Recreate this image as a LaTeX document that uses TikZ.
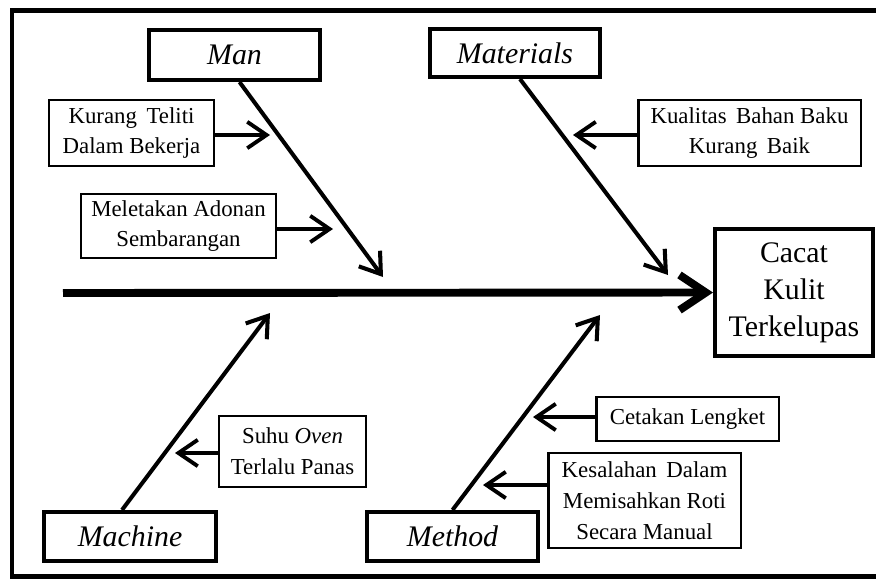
\documentclass[tikz,border=0pt]{standalone}
\usepackage{fontspec}
\setmainfont{Liberation Serif}
\usetikzlibrary{arrows.meta}

\tikzset{
  cause/.style={draw, line width=2.3pt, inner sep=0pt, align=center,
    font=\fontsize{17}{21}\selectfont\itshape},
  effect/.style={draw, line width=2.3pt, inner sep=0pt, align=center,
    font=\fontsize{17}{21}\selectfont},
  subcause/.style={draw, line width=1.4pt, inner sep=0pt, align=center,
    font=\fontsize{13}{17.5}\selectfont},
  bone/.style={line width=2.3pt, -{Straight Barb[length=11pt,width=15pt]}},
  twig/.style={line width=2.2pt, -{Straight Barb[length=11pt,width=15pt]}},
  spine/.style={line width=4.5pt, -{Straight Barb[length=15pt,width=20pt]}}
}

\begin{document}
\begin{tikzpicture}[x=0.02cm, y=-0.02cm]
\useasboundingbox (0,0) rectangle (876,579);
\draw [line width=2.8pt] (880,10.5) -- (12,10.5) -- (12,576.5) -- (880,576.5);

% main causes
\node [cause, minimum width=3.42cm, minimum height=1.00cm] (man) at (234.5,55) {Man};
\node [cause, minimum width=3.40cm, minimum height=0.96cm] (materials) at (515,53) {Materials};
\node [cause, minimum width=3.44cm, minimum height=0.98cm] (machine) at (130,536.5) {Machine};
\node [cause, minimum width=3.42cm, minimum height=0.98cm] (method) at (452.5,536.5) {Method};
\node [effect, minimum width=3.16cm, minimum height=2.54cm] (cacat) at (794,292.5) {Cacat\\Kulit\\Terkelupas};

% sub causes
\node [subcause, minimum width=3.29cm, minimum height=1.31cm] (teliti) at (131.5,133) {Kurang\, Teliti\\Dalam Bekerja};
\node [subcause, minimum width=3.89cm, minimum height=1.27cm] (adonan) at (178.5,226) {Meletakan Adonan\\Sembarangan};
\node [subcause, minimum width=4.45cm, minimum height=1.31cm] (bahan) at (749.5,133) {Kualitas\, Bahan Baku\\Kurang\, Baik};
\node [subcause, minimum width=2.93cm, minimum height=1.41cm] (suhu) at (292.5,451.5) {Suhu \textit{Oven}\\Terlalu Panas};
\node [subcause, minimum width=3.65cm, minimum height=0.87cm] (cetakan) at (687.5,419) {Cetakan Lengket};
\node [subcause, minimum width=3.85cm, minimum height=1.89cm] (pisah) at (644.5,500.5) {Kesalahan\, Dalam\\Memisahkan Roti\\Secara Manual};

\coordinate (tail) at (63,293);
\coordinate (manEnd) at (383,277);
\coordinate (matEnd) at (668,275);
\coordinate (macEnd) at (270,313);
\coordinate (metEnd) at (600,315);
\coordinate (telitiEnd) at (270,135);
\coordinate (adonanEnd) at (333,229);
\coordinate (bahanEnd) at (573,135);
\coordinate (suhuEnd) at (175,453);
\coordinate (cetakanEnd) at (533,417);
\coordinate (pisahEnd) at (483,485);

\draw [spine] (tail) -- (cacat.west);
\draw [bone] ([xshift=0.1cm]man.south) -- (manEnd);
\draw [bone] ([xshift=0.1cm]materials.south) -- (matEnd);
\draw [bone] ([xshift=-0.16cm]machine.north) -- (macEnd);
\draw [bone] (method.north) -- (metEnd);

\draw [twig] (teliti.east |- telitiEnd) -- (telitiEnd);
\draw [twig] (adonan.east |- adonanEnd) -- (adonanEnd);
\draw [twig] (bahan.west |- bahanEnd) -- (bahanEnd);
\draw [twig] (suhu.west |- suhuEnd) -- (suhuEnd);
\draw [twig] (cetakan.west |- cetakanEnd) -- (cetakanEnd);
\draw [twig] (pisah.west |- pisahEnd) -- (pisahEnd);
\end{tikzpicture}
\end{document}
